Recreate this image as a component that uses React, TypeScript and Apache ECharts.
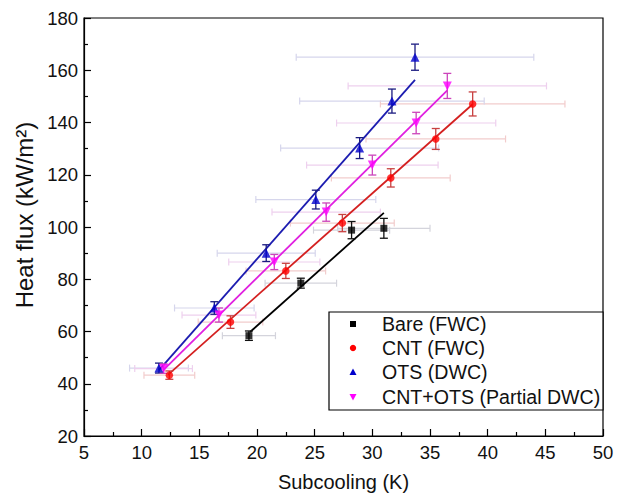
import React, { useEffect, useRef } from "react";
import * as echarts from "echarts";

const xTicks = { min: 5, max: 50, interval: 5 };
const yTicks = { min: 20, max: 180, interval: 20 };

const bareX = [19.3, 23.8, 28.2, 31.0];
const bareY = [58.4, 78.5, 98.8, 99.5];
const bareXErr = [2.3, 3.1, 3.3, 4.0];
const bareYErr = [1.8, 1.9, 3.3, 3.8];
const bareFit = [[19.4, 59.8], [31.0, 105.4]];

const cntX = [12.4, 17.7, 22.5, 27.4, 31.6, 35.5, 38.7];
const cntY = [43.3, 63.6, 83.2, 101.5, 118.8, 133.7, 147.1];
const cntXErr = [2.2, 2.8, 3.45, 4.5, 5.15, 6.05, 8.0];
const cntYErr = [1.6, 2.4, 2.9, 3.3, 3.5, 4.0, 4.6];
const cntFit = [[12.3, 43.5], [38.7, 147.0]];

const otsX = [11.5, 16.3, 20.8, 25.1, 28.9, 31.7, 33.7];
const otsY = [46.0, 69.0, 90.0, 110.5, 130.2, 148.2, 165.0];
const otsXErr = [2.55, 3.45, 4.25, 5.2, 6.85, 8.0, 10.3];
const otsYErr = [1.9, 2.4, 3.2, 3.6, 4.0, 4.6, 5.0];
const otsFit = [[11.5, 45.2], [33.7, 156.3]];

const cntOtsX = [11.9, 16.7, 21.5, 26.0, 30.0, 33.8, 36.5];
const cntOtsY = [45.8, 66.3, 86.6, 105.7, 123.7, 139.8, 154.0];
const cntOtsXErr = [2.5, 3.2, 3.95, 4.7, 5.7, 6.9, 8.6];
const cntOtsYErr = [1.8, 2.7, 2.9, 3.5, 3.8, 4.1, 4.8];
const cntOtsFit = [[11.9, 45.3], [36.5, 152.3]];

const seriesNames = ["Bare (FWC)", "CNT (FWC)", "OTS (DWC)", "CNT+OTS (Partial DWC)"];

const FONT = "'Liberation Sans', Arial, sans-serif";

type Spec = {
  name: string;
  xs: number[];
  ys: number[];
  xe: number[];
  ye: number[];
  fit: number[][];
  marker: string;
  markerSize: number;
  color: string;
  lineColor: string;
  vbarColor: string;
  hbarColor: string;
};

const specs: Spec[] = [
  { name: seriesNames[0], xs: bareX, ys: bareY, xe: bareXErr, ye: bareYErr, fit: bareFit, marker: "rect", markerSize: 7, color: "#000000", lineColor: "#000000", vbarColor: "#111111", hbarColor: "#d4d4dc" },
  { name: seriesNames[1], xs: cntX, ys: cntY, xe: cntXErr, ye: cntYErr, fit: cntFit, marker: "circle", markerSize: 7.5, color: "#ff0000", lineColor: "#d42020", vbarColor: "#c84040", hbarColor: "#f2cccc" },
  { name: seriesNames[2], xs: otsX, ys: otsY, xe: otsXErr, ye: otsYErr, fit: otsFit, marker: "triangle", markerSize: 9, color: "#0000cc", lineColor: "#1c1cb0", vbarColor: "#1a1a80", hbarColor: "#d6d6ec" },
  { name: seriesNames[3], xs: cntOtsX, ys: cntOtsY, xe: cntOtsXErr, ye: cntOtsYErr, fit: cntOtsFit, marker: "path://M0,0 L10,0 L5,9 Z", markerSize: 9, color: "#ff00ff", lineColor: "#e020e0", vbarColor: "#cc44bb", hbarColor: "#eed0ee" },
];

function hRender(color: string) {
  return (params: any, api: any) => {
    const x = api.value(0), y = api.value(1), e = api.value(2);
    const a = api.coord([x - e, y]);
    const b = api.coord([x + e, y]);
    const style = { stroke: color, lineWidth: 1.2 };
    return {
      type: "group",
      children: [
        { type: "line", shape: { x1: a[0], y1: a[1], x2: b[0], y2: b[1] }, style },
        { type: "line", shape: { x1: a[0], y1: a[1] - 3.5, x2: a[0], y2: a[1] + 3.5 }, style },
        { type: "line", shape: { x1: b[0], y1: b[1] - 3.5, x2: b[0], y2: b[1] + 3.5 }, style },
      ],
    };
  };
}

function vRender(color: string) {
  return (params: any, api: any) => {
    const x = api.value(0), y = api.value(1), e = api.value(3);
    const a = api.coord([x, y - e]);
    const b = api.coord([x, y + e]);
    const style = { stroke: color, lineWidth: 1.3 };
    return {
      type: "group",
      children: [
        { type: "line", shape: { x1: a[0], y1: a[1], x2: b[0], y2: b[1] }, style },
        { type: "line", shape: { x1: a[0] - 4, y1: a[1], x2: a[0] + 4, y2: a[1] }, style },
        { type: "line", shape: { x1: b[0] - 4, y1: b[1], x2: b[0] + 4, y2: b[1] }, style },
      ],
    };
  };
}

export default function App() {
  const ref = useRef<HTMLDivElement>(null);
  useEffect(() => {
    if (!ref.current) return;
    const chart = echarts.init(ref.current, null, { renderer: "svg" });
    const series: any[] = [];
    specs.forEach((s) => {
      const data = s.xs.map((x, i) => [x, s.ys[i], s.xe[i], s.ye[i]]);
      series.push({
        type: "custom",
        name: s.name + " x-error",
        renderItem: hRender(s.hbarColor),
        data,
        encode: { x: 0, y: 1 },
        z: 1,
        silent: true,
      });
    });
    specs.forEach((s) => {
      series.push({
        type: "line",
        name: s.name + " fit",
        data: s.fit,
        symbol: "none",
        lineStyle: { color: s.lineColor, width: 1.8 },
        z: 2,
        silent: true,
      });
    });
    specs.forEach((s) => {
      const data = s.xs.map((x, i) => [x, s.ys[i], s.xe[i], s.ye[i]]);
      series.push({
        type: "custom",
        name: s.name + " y-error",
        renderItem: vRender(s.vbarColor),
        data,
        encode: { x: 0, y: 1 },
        z: 3,
        silent: true,
      });
    });
    specs.forEach((s) => {
      series.push({
        type: "scatter",
        name: s.name,
        data: s.xs.map((x, i) => [x, s.ys[i]]),
        symbol: s.marker,
        symbolSize: s.markerSize,
        itemStyle: { color: s.color },
        z: 4,
      });
    });

    // legend (drawn as graphic for exact layout)
    const lgLeft = 329, lgTop = 312, lgW = 274, lgH = 98;
    const rowY = [324, 348, 372, 397];
    const symX = 353;
    const legendChildren: any[] = [
      { type: "rect", shape: { x: lgLeft, y: lgTop, width: lgW, height: lgH }, style: { fill: "#fff", stroke: "#000", lineWidth: 1.2 } },
    ];
    const symbolEls = [
      (y: number) => ({ type: "rect", shape: { x: symX - 3, y: y - 3, width: 6, height: 6 }, style: { fill: specs[0].color } }),
      (y: number) => ({ type: "circle", shape: { cx: symX, cy: y, r: 3.2 }, style: { fill: specs[1].color } }),
      (y: number) => ({ type: "polygon", shape: { points: [[symX - 3.5, y + 3], [symX + 3.5, y + 3], [symX, y - 3.5]] }, style: { fill: specs[2].color } }),
      (y: number) => ({ type: "polygon", shape: { points: [[symX - 3.5, y - 3], [symX + 3.5, y - 3], [symX, y + 3.5]] }, style: { fill: specs[3].color } }),
    ];
    seriesNames.forEach((n, i) => {
      legendChildren.push(symbolEls[i](rowY[i]));
      legendChildren.push({
        type: "text",
        x: 382,
        y: rowY[i],
        style: { text: n, fill: "#111", font: `19.6px ${FONT}`, verticalAlign: "middle" },
      });
    });

    chart.setOption({
      animation: false,
      backgroundColor: "#ffffff",
      grid: { left: 84, top: 18, right: 22, bottom: 62, show: true, borderColor: "#000", borderWidth: 1.2, backgroundColor: "transparent" },
      xAxis: {
        type: "value",
        min: xTicks.min,
        max: xTicks.max,
        interval: xTicks.interval,
        name: "Subcooling (K)",
        nameLocation: "middle",
        nameGap: 36,
        nameTextStyle: { fontFamily: FONT, fontSize: 20, color: "#111" },
        axisLine: { show: true, onZero: false, lineStyle: { color: "#000", width: 1.2 } },
        axisTick: { show: true, inside: true, length: 7, lineStyle: { color: "#000", width: 1.2 } },
        minorTick: { show: true, splitNumber: 2, length: 4, lineStyle: { color: "#000", width: 1.2 } },
        axisLabel: { fontFamily: FONT, fontSize: 18.5, color: "#111", margin: 7 },
        splitLine: { show: false },
      },
      yAxis: {
        type: "value",
        min: yTicks.min,
        max: yTicks.max,
        interval: yTicks.interval,
        name: "Heat flux (kW/m²)",
        nameLocation: "middle",
        nameGap: 40,
        nameTextStyle: { fontFamily: FONT, fontSize: 24, color: "#111", padding: [0, 0, 0, 24] },
        axisLine: { show: true, onZero: false, lineStyle: { color: "#000", width: 1.2 } },
        axisTick: { show: true, inside: true, length: 7, lineStyle: { color: "#000", width: 1.2 } },
        minorTick: { show: true, splitNumber: 2, length: 4, lineStyle: { color: "#000", width: 1.2 } },
        axisLabel: { fontFamily: FONT, fontSize: 18.5, color: "#111", margin: 6 },
        splitLine: { show: false },
      },
      series,
      graphic: [{ type: "group", children: legendChildren, z: 100 }],
    });
    return () => chart.dispose();
  }, []);
  return <div ref={ref} style={{ width: 625, height: 498, position: "absolute", left: 0, top: 0, background: "#fff" }} />;
}
